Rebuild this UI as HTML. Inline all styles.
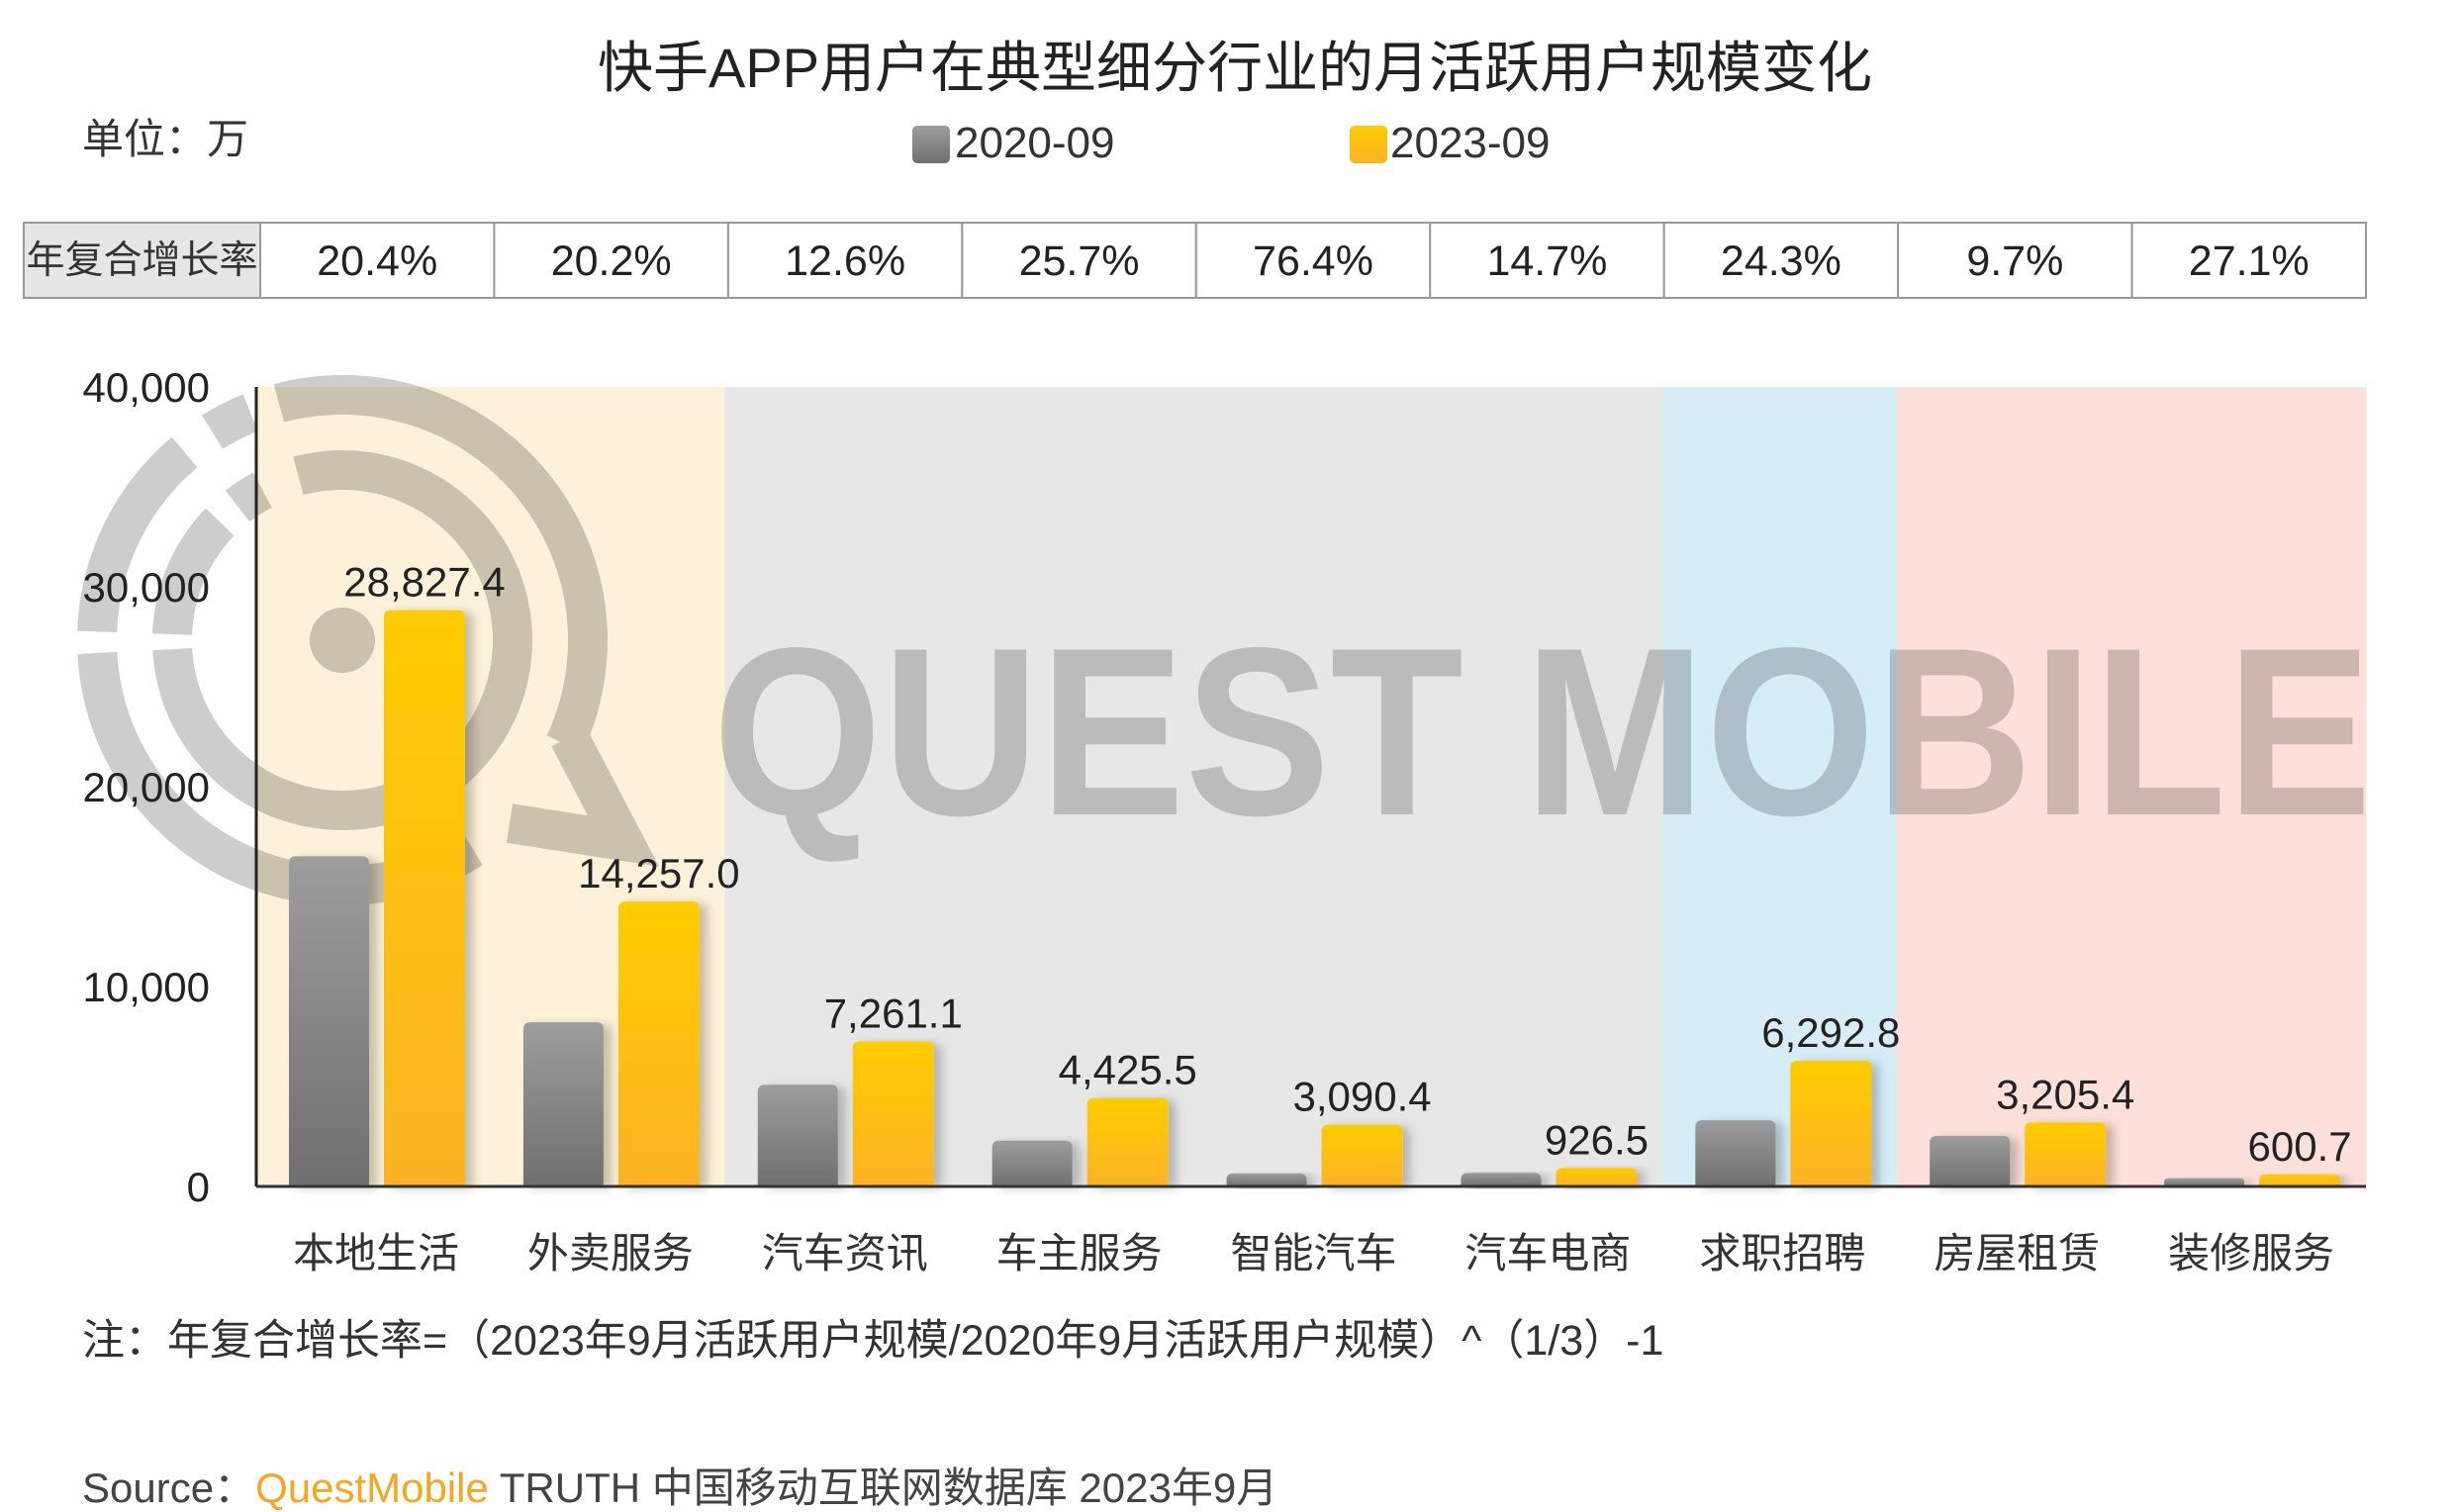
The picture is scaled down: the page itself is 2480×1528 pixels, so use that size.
<!DOCTYPE html>
<html><head><meta charset="utf-8">
<style>
html,body{margin:0;padding:0;background:#fff;}
svg{display:block;font-family:"Liberation Sans","Noto Sans CJK SC",sans-serif;}
</style></head>
<body>
<svg id="chart" width="2480" height="1528" viewBox="0 0 2480 1528" xmlns="http://www.w3.org/2000/svg">
<defs>
<linearGradient id="gGrey" x1="0" y1="0" x2="0" y2="1"><stop offset="0" stop-color="#9d9d9d"/><stop offset="1" stop-color="#6f6f6f"/></linearGradient>
<linearGradient id="gYel" x1="0" y1="0" x2="0" y2="1"><stop offset="0" stop-color="#ffcc00"/><stop offset="1" stop-color="#fbb226"/></linearGradient>
<filter id="sh" x="-20%" y="-10%" width="160%" height="130%"><feDropShadow dx="8" dy="2" stdDeviation="5" flood-color="#000" flood-opacity="0.22"/></filter>
</defs>
<text x="1248" y="88" text-anchor="middle" font-size="56" fill="#222">快手APP用户在典型细分行业的月活跃用户规模变化</text>
<text x="83" y="155" font-size="42" fill="#333">单位：万</text>
<g>
<rect x="922" y="127" width="38" height="38" rx="5" fill="url(#gGrey)"/>
<text x="965" y="159" font-size="44" fill="#333">2020-09</text>
<rect x="1364" y="127" width="38" height="38" rx="5" fill="url(#gYel)"/>
<text x="1405" y="159" font-size="44" fill="#333">2023-09</text>
</g>
<g id="table"></g>
<g id="plot"></g>
<text x="83" y="1369" font-size="43" fill="#333">注：年复合增长率=（2023年9月活跃用户规模/2020年9月活跃用户规模）^（1/3）-1</text>
<text x="83" y="1518" font-size="42" fill="#444">Source：<tspan fill="#f5a623">QuestMobile</tspan> TRUTH 中国移动互联网数据库 2023年9月</text>
</svg>
<script>
const categories = ["本地生活","外卖服务","汽车资讯","车主服务","智能汽车","汽车电商","求职招聘","房屋租赁","装修服务"];
const values2020 = [16517, 8209, 5086, 2290, 650, 680, 3310, 2530, 410];
const values2023 = [28827.4, 14257.0, 7261.1, 4425.5, 3090.4, 926.5, 6292.8, 3205.4, 600.7];
const labels2023 = ["28,827.4","14,257.0","7,261.1","4,425.5","3,090.4","926.5","6,292.8","3,205.4","600.7"];
const cagr = ["20.4%","20.2%","12.6%","25.7%","76.4%","14.7%","24.3%","9.7%","27.1%"];
const yTicks = [0, 10000, 20000, 30000, 40000];
const yTickLabels = ["0","10,000","20,000","30,000","40,000"];
const bandColors = ["#fdf2d9","#fdf2d9","#e7e7e7","#e7e7e7","#e7e7e7","#e7e7e7","#d6ecf6","#fde0da","#fde0da"];

const NS = "http://www.w3.org/2000/svg";
const X0 = 259, X1 = 2391, YB = 1199, YT = 391, YMAX = 40000;
const cw = (X1 - X0) / categories.length;
const y = v => YB - v / YMAX * (YB - YT);
function mk(tag, attrs, parent){ const e = document.createElementNS(NS, tag); for (const k in attrs) e.setAttribute(k, attrs[k]); parent.appendChild(e); return e; }

// table
const tb = document.getElementById('table');
const TY = 225, TH = 76, TX0 = 24, TX1 = 263, tcw = (X1 - TX1) / cagr.length;
const hc = mk('rect', {x:TX0, y:TY, width:TX1-TX0, height:TH, fill:'#e6e6e6', stroke:'#999', 'stroke-width':2}, tb);


const ht = mk('text', {x:(TX0+TX1)/2, y:TY+51, 'text-anchor':'middle', 'font-size':39, fill:'#333'}, tb);
ht.textContent = '年复合增长率';


cagr.forEach((c, i) => {
  const r = mk('rect', {x:TX1 + tcw*i, y:TY, width:tcw, height:TH, fill:'#fff', stroke:'#999', 'stroke-width':2}, tb);
  
  
  const t = mk('text', {x:TX1 + tcw*i + tcw/2, y:TY+53, 'text-anchor':'middle', 'font-size':43, fill:'#222'}, tb);
  t.textContent = c;
  
  
});

const pl = document.getElementById('plot');
// bands
categories.forEach((c, i) => {
  const b = mk('rect', {x:X0 + cw*i - 0.5, y:YT, width:cw + 1, height:YB - YT, fill:bandColors[i]}, pl);
  
  
});
// watermark (multiply blend)
const wm = mk('g', {style:'mix-blend-mode:multiply', fill:'none', stroke:'#cdcdcd', 'stroke-width':40}, pl);


const CX = 346, CY = 647;
function arc(r, a0, a1){
  const p = a => [CX + r*Math.cos(a*Math.PI/180), CY - r*Math.sin(a*Math.PI/180)];
  const s = p(a0), e = p(a1), large = Math.abs(a1 - a0) > 180 ? 1 : 0;
  return `M ${s[0]} ${s[1]} A ${r} ${r} 0 ${large} ${a1 > a0 ? 0 : 1} ${e[0]} ${e[1]}`;
}
mk('path', {d:arc(248, 112, 122)}, wm);
mk('path', {d:arc(248, 130, 178)}, wm);
mk('path', {d:arc(248, 183, 302)}, wm);
mk('path', {d:arc(248, 335, 465)}, wm);
mk('path', {d:arc(172, 118, 128)}, wm);
mk('path', {d:arc(172, 136, 178)}, wm);
mk('path', {d:arc(172, 183, 465)}, wm);
mk('polyline', {points:'575,745 630,850 515,832', 'stroke-linejoin':'miter'}, wm);
mk('circle', {cx:CX, cy:CY, r:33, fill:'#cdcdcd', stroke:'none'}, wm);
const wt = mk('text', {x:720, y:823, 'font-size':242, 'font-weight':'bold', fill:'#cfcfcf', stroke:'none', textLength:1677, lengthAdjust:'spacingAndGlyphs'}, wm);
wt.textContent = 'QUEST MOBILE';
// y ticks
yTicks.forEach((v, i) => {
  const t = mk('text', {x:212, y:y(v) + 15, 'text-anchor':'end', 'font-size':42, fill:'#222'}, pl);
  t.textContent = yTickLabels[i];
  
  
});
// bars
function bar(x, w, v, fill, name){
  const top = y(v), h = YB - top, r = Math.min(7, h/2);
  const d = `M ${x} ${YB} L ${x} ${top + r} Q ${x} ${top} ${x + r} ${top} L ${x + w - r} ${top} Q ${x + w} ${top} ${x + w} ${top + r} L ${x + w} ${YB} Z`;
  const p = mk('path', {d, fill, filter:'url(#sh)'}, pl);
  
  
}
categories.forEach((c, i) => {
  const cs = X0 + cw*i;
  bar(cs + 33, 81, values2020[i], 'url(#gGrey)', 'bar-2020');
  bar(cs + 129, 82, values2023[i], 'url(#gYel)', 'bar-2023');
  const vl = mk('text', {x:cs + 170, y:y(values2023[i]) - 14, 'text-anchor':'middle', 'font-size':42, fill:'#222'}, pl);
  vl.textContent = labels2023[i];
  
  
  const cl = mk('text', {x:cs + 121, y:1281, 'text-anchor':'middle', 'font-size':42, fill:'#333'}, pl);
  cl.textContent = c;
  
  
});
// axes
const ya = mk('line', {x1:X0, y1:YT, x2:X0, y2:YB, stroke:'#222', 'stroke-width':3}, pl);


const xa = mk('line', {x1:X0, y1:YB, x2:X1, y2:YB, stroke:'#333', 'stroke-width':3}, pl);


</script>
</body></html>
